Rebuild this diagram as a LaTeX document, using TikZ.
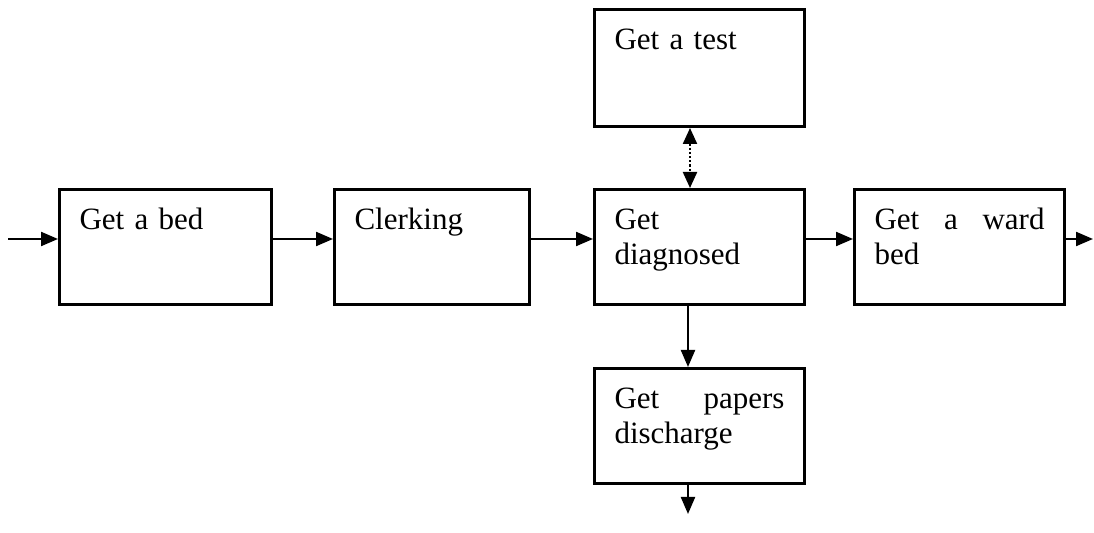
\documentclass[tikz,border=0pt]{standalone}
\usepackage{fontspec}
\setmainfont{Liberation Serif}[WordSpace=0.85]
\usetikzlibrary{arrows.meta}
\begin{document}
\begin{tikzpicture}[x=0.5pt,y=-0.5pt,
  box/.style={draw, line width=1.5pt, anchor=north west, inner xsep=10pt, inner ysep=0pt,
    text height=20pt, text depth=37.5pt, align=left,
    font=\fontsize{15.5pt}{17.5pt}\selectfont},
  arr/.style={line width=1.1pt, -{Triangle[length=8.5pt,width=7pt]}},
  darr/.style={line width=1.1pt, densely dotted, {Triangle[length=8pt,width=7pt]}-{Triangle[length=8pt,width=7pt]}}]
\useasboundingbox (0,0) rectangle (1094,533);
\node[box, text width=86pt] (bed) at (58,188) {Get a bed};
\node[box, text width=77.5pt] (clerk) at (333,188) {Clerking};
\node[box, text width=85pt] (diag) at (593,188) {Get\\diagnosed};
\node[box, text width=85pt] (ward) at (853,188) {Get\hfill a\hfill ward\\bed};
\node[box, text width=85pt, text depth=38.5pt] (test) at (593,8) {Get a test};
\node[box, text width=85pt] (papers) at (593,367) {Get\hfill papers\\discharge};
\coordinate (ay) at (0,239);
\coordinate (in) at (8,239);
\coordinate (out) at (1093,239);
\coordinate (dx) at (690,0);
\coordinate (vx) at (688,0);
\coordinate (end) at (688,514);
\draw[arr] (in) -- (bed.west |- ay);
\draw[arr] (bed.east |- ay) -- (clerk.west |- ay);
\draw[arr] (clerk.east |- ay) -- (diag.west |- ay);
\draw[arr] (diag.east |- ay) -- (ward.west |- ay);
\draw[arr] (ward.east |- ay) -- (out);
\draw[darr] (test.south -| dx) -- (diag.north -| dx);
\draw[arr] (diag.south -| vx) -- (papers.north -| vx);
\draw[arr] (papers.south -| vx) -- (end);
\end{tikzpicture}
\end{document}
